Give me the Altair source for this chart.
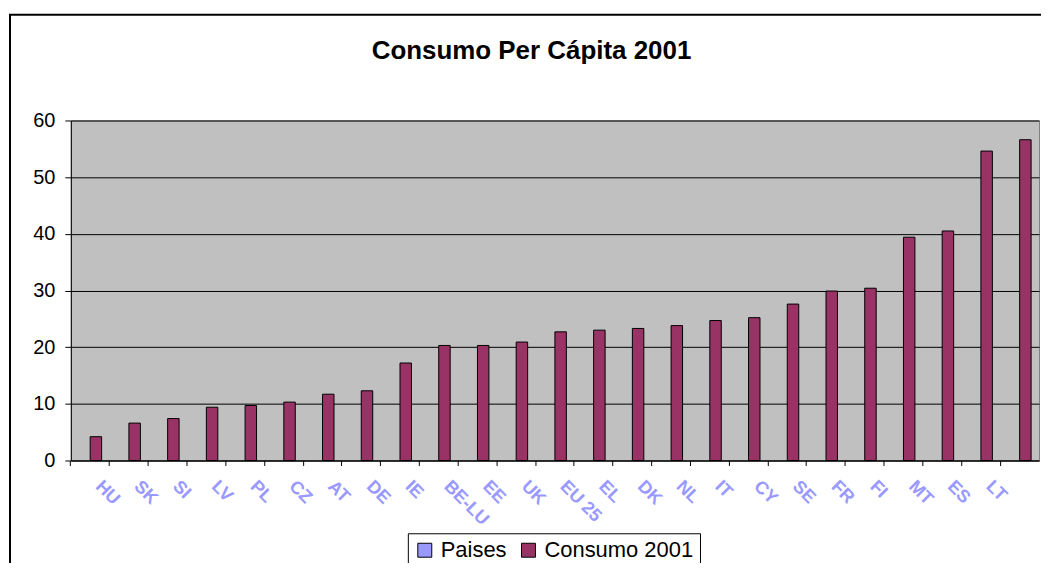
import altair as alt
import pandas as pd

paises = ["HU", "SK", "SI", "LV", "PL", "CZ", "AT", "DE", "IE", "BE-LU", "EE", "UK",
          "EU 25", "EL", "DK", "NL", "IT", "CY", "SE", "FR", "FI", "MT", "ES", "LT", " "]
consumo = [4.2, 6.6, 7.4, 9.4, 9.7, 10.3, 11.7, 12.3, 17.2, 20.3, 20.3, 20.9,
           22.7, 23.0, 23.3, 23.8, 24.7, 25.2, 27.6, 29.9, 30.4, 39.4, 40.5, 54.6, 56.6]
series = ["Paises", "Consumo 2001"]
colors = ["#9999FF", "#993366"]
y_ticks = [0, 10, 20, 30, 40, 50, 60]
title_text = "Consumo Per Cápita 2001"

FONT = "Liberation Sans"

df = pd.DataFrame({"pais": paises, "valor": consumo, "serie": ["Consumo 2001"] * len(paises)})
one = pd.DataFrame({"t": [title_text]})

bars = alt.Chart(df).mark_bar(stroke="black", strokeWidth=1).encode(
    x=alt.X("pais:N", sort=paises,
            scale=alt.Scale(domain=paises, paddingInner=0, paddingOuter=0),
            axis=alt.Axis(title=None, labelAngle=45, labelAlign="left", labelBaseline="middle",
                          labelFont=FONT, labelFontSize=18, labelFontWeight="bold",
                          labelColor="#9999FF", bandPosition=0, labelOffset=8, labelPadding=18,
                          tickSize=5, tickColor="black", domainColor="black", grid=False,
                          labelOverlap=False)),
    xOffset=alt.XOffset("serie:N", scale=alt.Scale(domain=series, paddingInner=0, paddingOuter=0.69)),
    y=alt.Y("valor:Q", scale=alt.Scale(domain=[0, 60], nice=False),
            axis=alt.Axis(title=None, values=y_ticks, labelFont=FONT, labelFontSize=20,
                          labelColor="black", tickSize=6, tickColor="black", domainColor="black",
                          gridColor="black", gridWidth=1, labelPadding=10)),
    color=alt.Color("serie:N", scale=alt.Scale(domain=series, range=colors),
                    legend=alt.Legend(title=None, orient="none", legendX=338, legendY=414,
                                      direction="horizontal", symbolType="square", symbolSize=196,
                                      symbolStrokeColor="black", symbolStrokeWidth=1,
                                      labelFont=FONT, labelFontSize=22, labelColor="black",
                                      strokeColor="black", fillColor="white", padding=6,
                                      columnPadding=10, labelOffset=5)),
)

title = alt.Chart(one).mark_text(font=FONT, fontSize=26, fontWeight="bold", color="black",
                                 align="center", baseline="alphabetic").encode(
    text="t:N", x=alt.value(462), y=alt.value(-62))

frame_top = alt.Chart(one).mark_rule(color="black", strokeWidth=2).encode(
    x=alt.value(-62), x2=alt.value(985), y=alt.value(-106))
frame_left = alt.Chart(one).mark_rule(color="black", strokeWidth=2).encode(
    x=alt.value(-61), y=alt.value(-106), y2=alt.value(490))

chart = alt.layer(bars, title, frame_top, frame_left).properties(
    width=971, height=341,
    padding={"left": 63, "top": 112, "right": 2, "bottom": 102},
    autosize=alt.AutoSizeParams(type="none"),
    background="white",
).configure_view(fill="#C0C0C0", stroke="#808080", strokeWidth=1)

chart.save("out.html", embed_options={"renderer": "svg", "actions": False})
